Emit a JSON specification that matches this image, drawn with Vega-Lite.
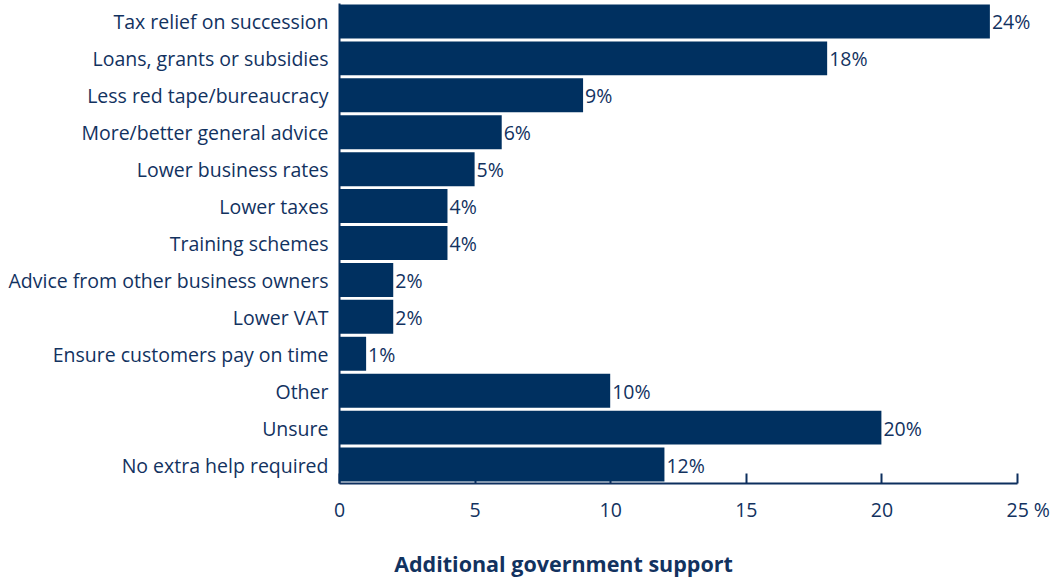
{
  "$schema": "https://vega.github.io/schema/vega-lite/v6.json",
  "autosize": "none",
  "width": 678,
  "height": 480,
  "padding": {"left": 339, "top": 3, "right": 37, "bottom": 95},
  "background": "white",
  "config": {"view": {"stroke": null}, "font": "Open Sans"},
  "data": {"values": [
    {"item": "Tax relief on succession", "pct": 24},
    {"item": "Loans, grants or subsidies", "pct": 18},
    {"item": "Less red tape/bureaucracy", "pct": 9},
    {"item": "More/better general advice", "pct": 6},
    {"item": "Lower business rates", "pct": 5},
    {"item": "Lower taxes", "pct": 4},
    {"item": "Training schemes", "pct": 4},
    {"item": "Advice from other business owners", "pct": 2},
    {"item": "Lower VAT", "pct": 2},
    {"item": "Ensure customers pay on time", "pct": 1},
    {"item": "Other", "pct": 10},
    {"item": "Unsure", "pct": 20},
    {"item": "No extra help required", "pct": 12}
  ]},
  "encoding": {
    "y": {"field": "item", "type": "nominal", "sort": null,
      "scale": {"paddingInner": 0.08, "paddingOuter": 0.04},
      "axis": {"title": null, "ticks": false, "domain": true, "domainColor": "#0d2f5e", "domainWidth": 2,
        "labelFont": "Open Sans", "labelFontSize": 19.5, "labelColor": "#12325f", "labelPadding": 11, "labelLimit": 400, "labelOffset": 2}},
    "x": {"field": "pct", "type": "quantitative",
      "scale": {"domain": [0, 25], "nice": false},
      "axis": {"values": [0, 5, 10, 15, 20, 25], "grid": false,
        "labelExpr": "datum.value == 25 ? '25 %' : datum.label",
        "labelAlign": {"condition": {"test": "datum.value == 25", "value": "left"}, "value": "center"},
        "labelOffset": {"condition": {"test": "datum.value == 25", "value": -11}, "value": 0},
        "labelFont": "Open Sans", "labelFontSize": 19.5, "labelColor": "#12325f", "labelPadding": 28,
        "domainColor": "#0d2f5e", "domainWidth": 2, "tickColor": "#0d2f5e", "tickWidth": 2, "tickSize": -10,
        "title": "Additional government support", "titleFont": "Open Sans", "titleFontSize": 21.5, "titleFontWeight": "bold",
        "titleColor": "#12325f", "titleX": 224, "titleY": 82, "titleBaseline": "middle", "titleAnchor": "middle"}}
  },
  "layer": [
    {"mark": {"type": "bar", "color": "#003060"}},
    {"mark": {"type": "text", "align": "left", "dx": 2, "dy": 2, "font": "Open Sans", "fontSize": 19.5, "color": "#12325f", "text": {"expr": "datum.pct + '%'"}}}
  ]
}
